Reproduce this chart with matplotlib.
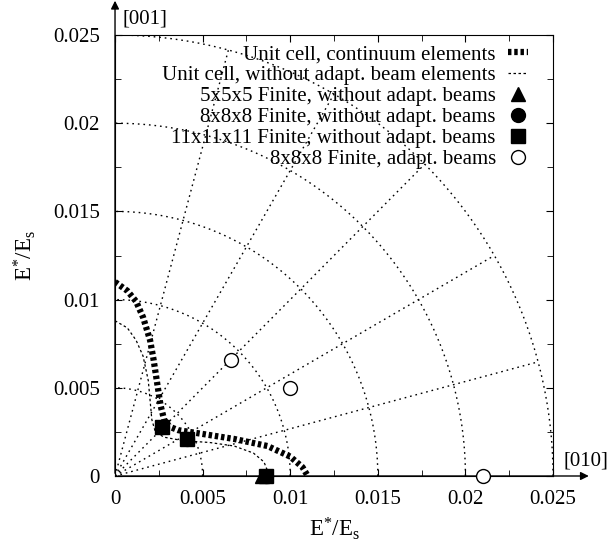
import numpy as np
import matplotlib
matplotlib.use("Agg")
import matplotlib.pyplot as plt

plt.rcParams["font.family"] = ["Liberation Serif", "DejaVu Serif"]
plt.rcParams["mathtext.fontset"] = "custom"
plt.rcParams["mathtext.rm"] = "Liberation Serif"
plt.rcParams["mathtext.it"] = "Liberation Serif:italic"
plt.rcParams["mathtext.default"] = "regular"

# polar guide grid
grid_radii = [0.005, 0.01, 0.015, 0.02, 0.025]
grid_angles_deg = [15, 30, 45, 60, 75]

# unit cell, continuum elements
continuum_x = [0.0, 0.0007, 0.0012, 0.0016, 0.0020, 0.0022, 0.0024, 0.0026,
               0.0028, 0.0031, 0.0036, 0.0049, 0.0068, 0.0087, 0.0100, 0.0107, 0.0110]
continuum_y = [0.0110, 0.0105, 0.0099, 0.0090, 0.0077, 0.0066, 0.0053, 0.0040,
               0.0032, 0.0028, 0.0026, 0.0024, 0.0021, 0.0017, 0.0011, 0.0005, 0.0]

# unit cell, without adapted beam elements
beam_x = [0.0, 0.0007, 0.0012, 0.0016, 0.0019, 0.0020, 0.0021, 0.0023, 0.0028,
          0.0039, 0.0054, 0.0068, 0.0079, 0.0085, 0.0087, 0.0088]
beam_y = [0.0088, 0.0084, 0.0077, 0.0068, 0.0054, 0.0043, 0.0032, 0.0025, 0.0022,
          0.0020, 0.0019, 0.0017, 0.0013, 0.0008, 0.0003, 0.0]

# finite samples
fin5_x, fin5_y = [0.0084], [0.0]
fin8_x, fin8_y = [0.0027, 0.0041, 0.0086], [0.0028, 0.0021, 0.0]
fin11_x, fin11_y = [0.0027, 0.0041, 0.0086], [0.0028, 0.0021, 0.0]
adapt_x, adapt_y = [0.0066, 0.0100, 0.0210], [0.0066, 0.0050, 0.0]

tick_vals = [0, 0.005, 0.01, 0.015, 0.02, 0.025]
tick_labels = ["0", "0.005", "0.01", "0.015", "0.02", "0.025"]

fig = plt.figure(figsize=(6.07, 5.46), dpi=100)
ax = fig.add_axes([0.1895, 0.1282, 0.7216, 0.8077])

grid_style = dict(color="black", lw=1.0, ls=(0, (1.2, 2.8)), zorder=1)
theta = np.linspace(0, np.pi / 2, 200)
for r in grid_radii:
    ax.plot(r * np.cos(theta), r * np.sin(theta), **grid_style)
for a in np.deg2rad(grid_angles_deg):
    ax.plot([0, 0.025 * np.cos(a)], [0, 0.025 * np.sin(a)], **grid_style)

ax.plot(continuum_x, continuum_y, color="black", lw=4.5, ls=(0, (0.55, 0.45)),
        label="Unit cell, continuum elements", zorder=3)
ax.plot(beam_x, beam_y, color="black", lw=0.9, ls=(0, (2.0, 2.0)),
        label="Unit cell, without adapt. beam elements", zorder=3)
ax.plot(fin5_x, fin5_y, "^", color="black", ms=10, ls="none", clip_on=False,
        label="5x5x5 Finite, without adapt. beams", zorder=4)
ax.plot(fin8_x, fin8_y, "o", color="black", ms=10, ls="none", clip_on=False,
        label="8x8x8 Finite, without adapt. beams", zorder=4)
ax.plot(fin11_x, fin11_y, "s", color="black", ms=10, ls="none", clip_on=False,
        label="11x11x11 Finite, without adapt. beams", zorder=5)
ax.plot(adapt_x, adapt_y, "o", color="black", mfc="white", mew=1, ms=10,
        ls="none", clip_on=False, label="8x8x8 Finite, adapt. beams", zorder=5)

ax.set_xlim(0, 0.025)
ax.set_ylim(0, 0.025)
ax.set_xticks(tick_vals)
ax.set_xticklabels(tick_labels)
ax.set_yticks(tick_vals)
ax.set_yticklabels(tick_labels)
ax.set_xticks(np.arange(0, 0.0251, 0.0025), minor=True)
ax.set_yticks(np.arange(0, 0.0251, 0.0025), minor=True)
ax.tick_params(which="both", direction="in", top=True, right=True, labelsize=15)
ax.tick_params(which="major", length=5)
ax.tick_params(which="minor", length=4)
ax.tick_params(axis="x", which="major", pad=10)
ax.tick_params(axis="y", which="major", pad=11)

ax.set_xlabel(r"E$^{*}$/E$_{s}$", fontsize=16.5, labelpad=5)
ax.set_ylabel(r"E$^{*}$/E$_{s}$", fontsize=16.5, labelpad=11)

arrow = dict(arrowstyle="-|>", color="black", lw=1, mutation_scale=12)
ax.annotate("", xy=(0.0272, 0), xytext=(0, 0), arrowprops=arrow,
            annotation_clip=False)
ax.annotate("", xy=(0, 0.0271), xytext=(0, 0), arrowprops=arrow,
            annotation_clip=False)
ax.text(0.0256, 0.0003, "[010]", fontsize=15, ha="left", va="bottom")
ax.text(0.0004, 0.0259, "[001]", fontsize=15, ha="left", va="center")

ax.legend(loc="upper right", bbox_to_anchor=(0.943, 0.978), frameon=False,
          markerfirst=False, fontsize=15, handlelength=0.95, handletextpad=0.6,
          labelspacing=0.07, borderaxespad=0, borderpad=0)

fig.savefig("out.png", dpi=100)
